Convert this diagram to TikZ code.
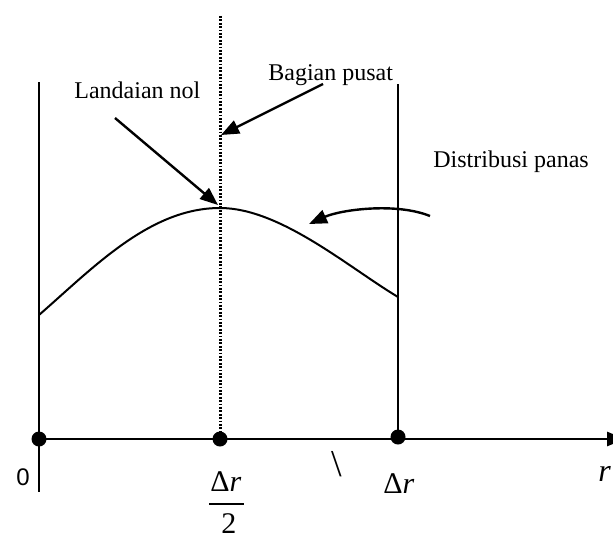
\documentclass[tikz,border=0pt]{standalone}
\usepackage{fontspec}
\setmainfont{Liberation Serif}
\newfontfamily\zerofont{Liberation Sans}
\usetikzlibrary{arrows.meta}

\begin{document}
\begin{tikzpicture}[
    x=0.5pt, y=-0.5pt,
    font=\fontsize{12}{14}\selectfont,
    dot/.style={circle, fill, inner sep=0pt, minimum size=7.5pt},
    wall/.style={line width=1pt},
    mid/.style={line width=1.5pt, dash pattern=on 0.9pt off 0.8pt},
    axis/.style={line width=1.4pt, -{Triangle[length=9pt,width=7pt]}},
    pointer/.style={line width=1.2pt, -{Triangle[length=9pt,width=7pt]}},
    lbl/.style={anchor=base west, inner sep=0pt},
    sym/.style={lbl, font=\fontsize{15}{18}\selectfont},
    ]
\useasboundingbox (0,0) rectangle (613,540);
\clip (0,0) rectangle (613,540);
\fill[white] (0,0) rectangle (613,540);

\node[dot] (o) at (39,439) {};
\node[dot] (half) at (220,439) {};
\node[dot] (dr) at (398,437) {};
\coordinate (otop) at (39,82);
\coordinate (obot) at (39,492);
\coordinate (halftop) at (220,16);
\coordinate (drtop) at (398,84);
\coordinate (rend) at (625,439);

\draw[wall] (otop) -- (obot);
\draw[mid] (halftop) -- (half.center);
\draw[wall] (drtop) -- (dr.center);
\draw[axis] (o.center) -- (rend);

\coordinate (heatl) at (39,315);
\coordinate (heatpeak) at (220,208);
\coordinate (heatr) at (398,297);
\draw[wall] (heatl) .. controls (94,267) and (150,208) .. (heatpeak)
    .. controls (280,208) and (348,267) .. (heatr);

\node[lbl] (landai) at (74,98) {Landaian nol};
\node[lbl] (pusat) at (268,80) {Bagian pusat};
\node[lbl] (distrib) at (433,167) {Distribusi panas};

\coordinate (landaitail) at (115,118);
\coordinate (peak) at (218,205);
\coordinate (pusattail) at (323,84);
\coordinate (pusathead) at (221,135);
\coordinate (distribtail) at (430,216);
\coordinate (distribhead) at (309,224);

\draw[pointer] (landaitail) -- (peak);
\draw[pointer] (pusattail) -- (pusathead);
\draw[pointer] (distribtail) .. controls (395,202) and (340,210) .. (distribhead);

\node[lbl, font=\zerofont\fontsize{12}{14}\selectfont] (zero) at (16,485) {0};
\node[sym] (drnum) at (210,491) {Δ\textit{r}};
\node[sym] (drden) at (221,533) {2};
\draw[line width=1pt] (209,504) -- (244,504);
\node[sym] (drlab) at (383,493) {Δ\textit{r}};
\node[sym, font=\fontsize{19}{22}\selectfont] (slash) at (331,476) {\textbackslash};
\node[sym, font=\fontsize{16}{19}\selectfont] (rlab) at (598,481) {\textit{r}};
\end{tikzpicture}
\end{document}
